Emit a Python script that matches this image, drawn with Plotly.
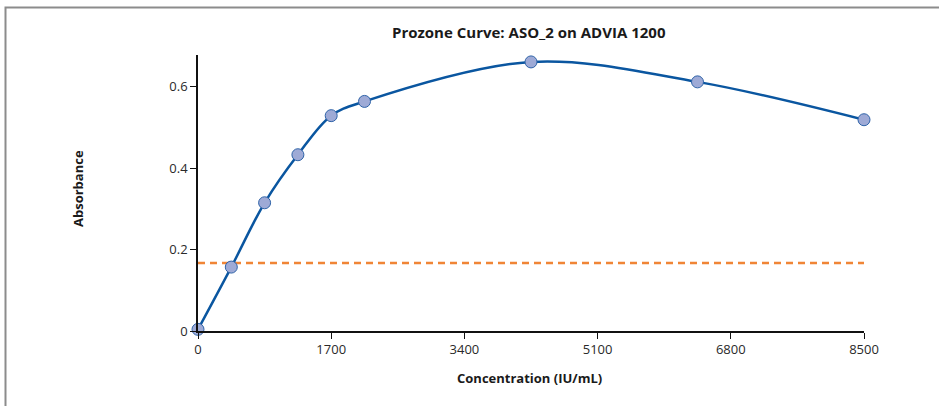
import plotly.graph_objects as go

concentration = [0, 425, 850, 1275, 1700, 2125, 4250, 6375, 8500]
absorbance = [0.004, 0.157, 0.315, 0.433, 0.529, 0.564, 0.661, 0.612, 0.519]
threshold = 0.167
x_ticks = [0, 1700, 3400, 5100, 6800, 8500]
y_ticks = [0, 0.2, 0.4, 0.6]

FONT = "Open Sans"

fig = go.Figure()
fig.add_trace(go.Scatter(
    x=[0, 8500], y=[threshold, threshold], mode="lines",
    line=dict(color="#f08536", width=2.5, dash="7px,5px"),
    hoverinfo="skip", cliponaxis=False))
fig.add_trace(go.Scatter(
    x=concentration, y=absorbance, mode="lines+markers",
    line=dict(color="#0a56a0", width=2.5, shape="spline", smoothing=1),
    marker=dict(size=12, color="#9eaad6", line=dict(color="#2f63a8", width=1)),
    cliponaxis=False))

fig.update_layout(
    width=939, height=406,
    margin=dict(l=198, r=75, t=55, b=75),
    paper_bgcolor="white", plot_bgcolor="white",
    showlegend=False,
    font=dict(family=FONT, size=13, color="#2a2a2a"),
    xaxis=dict(range=[0, 8500], tickvals=x_ticks, showgrid=False, zeroline=False,
               showline=True, linecolor="#111111", linewidth=1.5,
               ticks="outside", ticklen=6, tickcolor="#111111",
               tickfont=dict(family=FONT, size=13, color="#2a2a2a")),
    yaxis=dict(range=[0, 0.678], tickvals=y_ticks, showgrid=False, zeroline=False,
               showline=True, linecolor="#111111", linewidth=1.5,
               ticks="outside", ticklen=6, tickcolor="#111111",
               tickfont=dict(family=FONT, size=13, color="#2a2a2a")),
    annotations=[
        dict(text="<b>Prozone Curve: ASO_2 on ADVIA 1200</b>", xref="paper", yref="paper",
             x=(529 - 198) / 666, y=(331 - 32) / 276, xanchor="center", yanchor="middle",
             showarrow=False, font=dict(family=FONT, size=15, color="#1a1a1a")),
        dict(text="<b>Concentration (IU/mL)</b>", xref="paper", yref="paper",
             x=(529 - 198) / 666, y=(331 - 378) / 276, xanchor="center", yanchor="middle",
             showarrow=False, font=dict(family=FONT, size=13, color="#1a1a1a")),
        dict(text="<b>Absorbance</b>", xref="paper", yref="paper", textangle=-90,
             x=(78 - 198) / 666, y=(331 - 189) / 276, xanchor="center", yanchor="middle",
             showarrow=False, font=dict(family=FONT, size=13, color="#1a1a1a")),
    ],
    shapes=[
        dict(type="rect", xref="paper", yref="paper",
             x0=(5.5 - 198) / 666, x1=(960 - 198) / 666,
             y0=(331 - 430) / 276, y1=(331 - 7.5) / 276,
             line=dict(color="#8c8c8c", width=2), fillcolor="rgba(0,0,0,0)", layer="below"),
    ],
)

fig.write_html("out.html")
